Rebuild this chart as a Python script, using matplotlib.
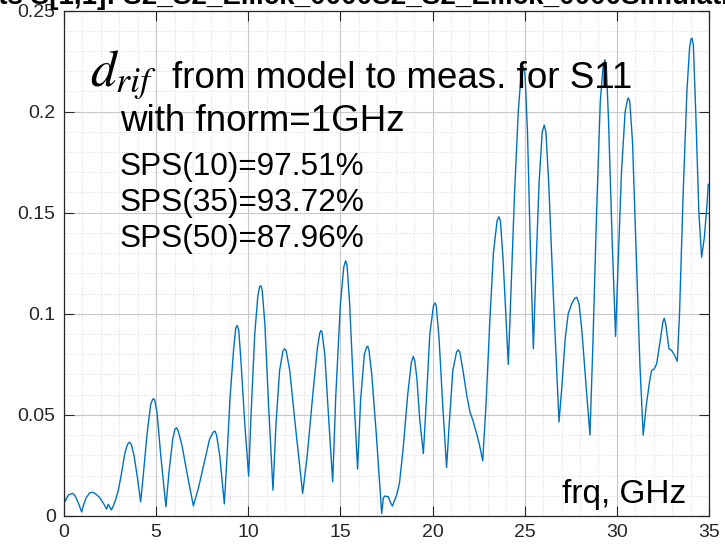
import numpy as np
import matplotlib
matplotlib.use("Agg")
import matplotlib.pyplot as plt
from matplotlib.ticker import MultipleLocator

# frequency (GHz) and d_rif values
frq = [0.00, 0.04, 0.10, 0.25, 0.47, 0.60, 0.80, 0.96, 1.05, 1.20, 1.40, 1.56, 1.70, 1.90, 2.05,
       2.13, 2.22, 2.31, 2.40, 2.45, 2.57, 2.68, 2.80, 2.95, 3.10, 3.30, 3.45, 3.55, 3.65, 3.80,
       4.00, 4.16, 4.30, 4.50, 4.70, 4.80, 4.85, 4.92, 5.05, 5.25, 5.53, 5.70, 5.90, 6.02, 6.11,
       6.20, 6.40, 6.70, 7.02, 7.30, 7.60, 7.90, 8.10, 8.19, 8.28, 8.45, 8.70, 8.85, 9.00, 9.20,
       9.32, 9.40, 9.48, 9.60, 9.80, 10.02, 10.15, 10.35, 10.52, 10.62, 10.68, 10.75, 10.90, 11.10,
       11.34, 11.50, 11.70, 11.88, 11.96, 12.05, 12.25, 12.55, 12.95, 13.20, 13.50, 13.75, 13.88,
       13.94, 14.00, 14.15, 14.35, 14.58, 14.75, 15.00, 15.18, 15.28, 15.36, 15.50, 15.70, 15.93,
       16.10, 16.30, 16.42, 16.48, 16.55, 16.70, 16.95, 17.24, 17.33, 17.42, 17.60, 17.70, 17.82,
       17.95, 18.05, 18.20, 18.40, 18.65, 18.85, 18.95, 19.03, 19.15, 19.30, 19.50, 19.65, 19.85,
       20.05, 20.13, 20.20, 20.35, 20.55, 20.76, 20.90, 21.10, 21.30, 21.39, 21.48, 21.65, 21.85,
       22.03, 22.20, 22.39, 22.55, 22.72, 22.90, 23.10, 23.30, 23.50, 23.60, 23.68, 23.82, 24.00,
       24.11, 24.25, 24.45, 24.65, 24.80, 24.92, 25.02, 25.15, 25.30, 25.47, 25.60, 25.78, 25.95,
       26.06, 26.15, 26.30, 26.55, 26.86, 27.00, 27.20, 27.36, 27.55, 27.70, 27.82, 27.95, 28.10,
       28.30, 28.54, 28.70, 28.90, 29.10, 29.25, 29.35, 29.43, 29.55, 29.75, 29.93, 30.05, 30.25,
       30.45, 30.58, 30.62, 30.70, 30.85, 31.05, 31.25, 31.43, 31.60, 31.80, 31.89, 32.03, 32.16,
       32.34, 32.50, 32.57, 32.65, 32.83, 32.97, 33.10, 33.28, 33.40, 33.60, 33.80, 33.95, 34.03,
       34.08, 34.15, 34.28, 34.45, 34.60, 34.75, 34.90, 34.96]
d_rif = [0.015, 0.007, 0.008, 0.0105, 0.0112, 0.010, 0.006, 0.002, 0.005, 0.009, 0.0115, 0.0117,
         0.011, 0.0095, 0.0075, 0.0064, 0.005, 0.0034, 0.0058, 0.0050, 0.0030, 0.0050, 0.0080,
         0.0128, 0.020, 0.031, 0.0355, 0.0365, 0.0355, 0.030, 0.018, 0.007, 0.020, 0.040, 0.055,
         0.0575, 0.058, 0.0575, 0.051, 0.030, 0.0046, 0.022, 0.038, 0.043, 0.0436, 0.042, 0.035,
         0.020, 0.005, 0.014, 0.026, 0.038, 0.0415, 0.042, 0.040, 0.030, 0.006, 0.030, 0.057,
         0.082, 0.093, 0.0942, 0.092, 0.077, 0.047, 0.0197, 0.050, 0.090, 0.109, 0.1135, 0.1139,
         0.112, 0.095, 0.055, 0.0128, 0.045, 0.072, 0.0815, 0.0827, 0.082, 0.072, 0.045, 0.0112,
         0.030, 0.060, 0.083, 0.0905, 0.0917, 0.091, 0.080, 0.050, 0.0169, 0.060, 0.105, 0.123,
         0.1262, 0.124, 0.105, 0.065, 0.0232, 0.058, 0.080, 0.0835, 0.084, 0.082, 0.070, 0.040,
         0.0013, 0.009, 0.0099, 0.0095, 0.007, 0.0049, 0.008, 0.0104, 0.016, 0.033, 0.060, 0.076,
         0.0789, 0.077, 0.068, 0.048, 0.0309, 0.055, 0.090, 0.104, 0.1054, 0.104, 0.088, 0.055,
         0.024, 0.045, 0.072, 0.081, 0.0822, 0.081, 0.072, 0.060, 0.0514, 0.047, 0.0408, 0.035,
         0.0273, 0.055, 0.095, 0.130, 0.146, 0.148, 0.146, 0.128, 0.095, 0.075, 0.110, 0.160,
         0.200, 0.218, 0.2224, 0.218, 0.190, 0.135, 0.0827, 0.120, 0.165, 0.190, 0.1933, 0.190,
         0.165, 0.110, 0.0465, 0.062, 0.088, 0.100, 0.105, 0.1075, 0.1082, 0.105, 0.092, 0.068,
         0.040, 0.085, 0.150, 0.205, 0.222, 0.2257, 0.222, 0.195, 0.135, 0.0888, 0.120, 0.170,
         0.200, 0.206, 0.2068, 0.205, 0.185, 0.130, 0.075, 0.040, 0.055, 0.068, 0.072, 0.0728,
         0.0753, 0.086, 0.096, 0.0978, 0.095, 0.0827, 0.0819, 0.080, 0.0766, 0.100, 0.160, 0.210,
         0.232, 0.236, 0.2363, 0.233, 0.200, 0.150, 0.1279, 0.138, 0.155, 0.164]

sps_labels = ["SPS(10)=97.51%", "SPS(35)=93.72%", "SPS(50)=87.96%"]
x_ticks = [0, 5, 10, 15, 20, 25, 30, 35]
y_ticks = [0, 0.05, 0.1, 0.15, 0.2, 0.25]
y_ticklabels = ["0", "0.05", "0.1", "0.15", "0.2", "0.25"]

plt.rcParams['font.family'] = ['Liberation Sans', 'DejaVu Sans']
plt.rcParams['mathtext.fontset'] = 'stix'

W, H = 725, 547
fig = plt.figure(figsize=(W / 100, H / 100), dpi=100)
ax = fig.add_axes([64 / W, 1 - 516 / H, (709 - 64) / W, (516 - 10.5) / H])

ax.plot(frq, d_rif, color='#0072BD', lw=1.0)

ax.set_xlim(0, 35)
ax.set_ylim(0, 0.25)
ax.set_xticks(x_ticks)
ax.set_xticklabels([str(t) for t in x_ticks])
ax.set_yticks(y_ticks)
ax.set_yticklabels(y_ticklabels)
ax.xaxis.set_minor_locator(MultipleLocator(1))
ax.yaxis.set_minor_locator(MultipleLocator(0.01))

# matlab-like grid and ticks
ax.grid(True, which='major', color='#c8c8c8', lw=0.8)
ax.grid(True, which='minor', color='#d4d4d4', lw=0.6, linestyle=':')
ax.set_axisbelow(True)
ax.tick_params(which='major', direction='in', length=7, width=0.8, top=True, right=True,
               labelsize=14, pad=6, colors='#262626')
ax.tick_params(which='minor', length=0)
for sp in ax.spines.values():
    sp.set_color('#262626')
    sp.set_linewidth(0.9)

# title mostly clipped by the top edge of the figure
fig.text(387 / W, 1 - 4 / H, "Plots S[1,1]: S2_S2_Ellick_0000S2_S2_Ellick_0000Simulation(1/1)",
         ha='center', va='baseline', fontsize=20, fontweight='bold')

def px_text(x, y, s, **kw):
    fig.text(x / W, 1 - y / H, s, va='baseline', **kw)

px_text(90, 86, r'$d_{rif}$', fontsize=37)
px_text(172, 88, "from model to meas. for S11", fontsize=26.5)
px_text(120, 131, "with fnorm=1GHz", fontsize=26.5)
for i, lbl in enumerate(sps_labels):
    px_text(120, 175 + 36 * i, lbl, fontsize=22.7)
px_text(562, 503, "frq, GHz", fontsize=24)

fig.savefig("out.png", dpi=100)
